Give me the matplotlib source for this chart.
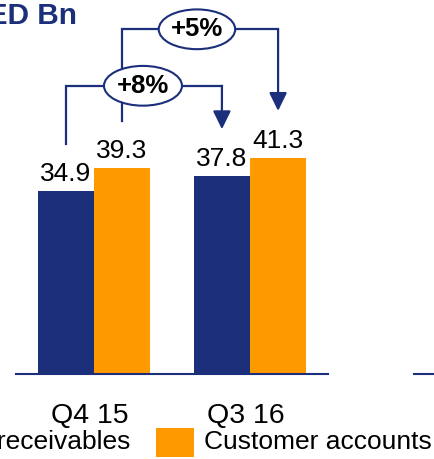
import matplotlib
matplotlib.use('Agg')
from matplotlib import pyplot as plt
from matplotlib.patches import Ellipse, Rectangle
import numpy as np

plt.rcParams['font.family'] = ['Liberation Sans', 'DejaVu Sans']

# Data
periods = ['Q4 15', 'Q3 16']
loans = [34.9, 37.8]
deposits = [39.3, 41.3]
growth_loans = '+8%'
growth_deposits = '+5%'

navy = '#1b2f7b'
orange = '#ff9900'

fig = plt.figure(figsize=(4.34, 4.59), dpi=100)
W, H = 434, 459

# main axes: x axis line runs 16..328 px, baseline at 374 px
ax = fig.add_axes([16 / W, 85 / H, 312 / W, 374 / H])
ax.set_xlim(-0.5, 1.5)
ax.set_ylim(0, 71.5)

x = np.arange(len(periods))
bw = 0.36
ax.bar(x - bw / 2, loans, bw, color=navy)
ax.bar(x + bw / 2, deposits, bw, color=orange)

for xi, v in zip(x - bw / 2, loans):
    ax.text(xi, v + 1.0, f'{v:.1f}', ha='center', va='bottom', fontsize=19)
for xi, v in zip(x + bw / 2, deposits):
    ax.text(xi, v + 1.0, f'{v:.1f}', ha='center', va='bottom', fontsize=19)

for s in ['left', 'right', 'top']:
    ax.spines[s].set_visible(False)
ax.spines['bottom'].set_color(navy)
ax.spines['bottom'].set_linewidth(1.5)
ax.set_yticks([])
ax.set_xticks(x - 0.03)
ax.set_xticklabels(periods, fontsize=20.5)
ax.tick_params(axis='x', length=0, pad=21)


def connector(x1, v1, x2, v2, top, label, ecx, ew):
    off = 9.0
    ax.plot([x1, x1, x2], [v1 + off, top, top], color=navy, lw=1.6,
            solid_joinstyle='miter', clip_on=False, zorder=3)
    ax.annotate('', xy=(x2, v2 + off), xytext=(x2, top),
                arrowprops=dict(arrowstyle='-|>,head_length=11,head_width=5.4',
                                mutation_scale=1, color=navy, lw=1.6,
                                shrinkA=0, shrinkB=0),
                zorder=3, annotation_clip=False)
    ax.add_patch(Ellipse((ecx, top), ew, 7.6, facecolor='white',
                         edgecolor=navy, lw=1.5, zorder=4, clip_on=False))
    ax.text(ecx, top, label, ha='center', va='center', fontsize=18.5,
            fontweight='bold', zorder=5)


connector(x[0] - bw / 2, loans[0], x[1] - bw / 2, loans[1], 55.1,
          growth_loans, 0.314, 0.5)
connector(x[0] + bw / 2, deposits[0], x[1] + bw / 2, deposits[1], 65.9,
          growth_deposits, 0.66, 0.49)

# fragment of the neighbouring chart's axis
ax2 = fig.add_axes([414 / W, 85 / H, 40 / W, 0.3])
ax2.set_axis_off()
ax2.axhline(0, color=navy, lw=1.5, xmin=0, xmax=1, clip_on=False)
ax2.set_ylim(0, 1)

# title (cut off on the left)
fig.text(77 / W, 1 - 16 / H, 'AED Bn', ha='right', va='center',
         fontsize=21.5, fontweight='bold', color=navy)

# legend row (cut off on the left)
fig.text(130 / W, 1 - 442 / H, 'Loans and receivables', ha='right',
         va='center', fontsize=19)
fig.patches.append(Rectangle((156 / W, 1 - 457 / H), 38 / W, 29 / H,
                             transform=fig.transFigure, facecolor=orange,
                             edgecolor='none'))
fig.text(204 / W, 1 - 442 / H, 'Customer accounts', ha='left',
         va='center', fontsize=19)

fig.savefig('out.png', dpi=100)
